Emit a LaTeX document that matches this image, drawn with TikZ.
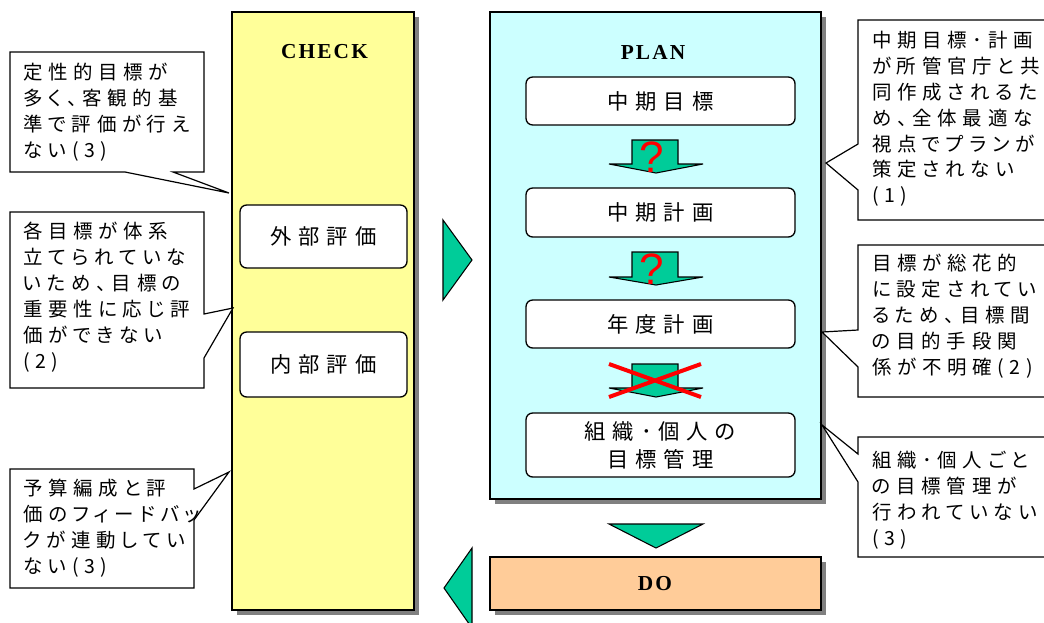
\documentclass[tikz,border=0pt]{standalone}
\usepackage{fontspec}
\usetikzlibrary{shadows}
\newfontfamily\jpfont[LetterSpace=29,RawFeature={+palt}]{Noto Sans CJK JP}
\newfontfamily\boxfont[LetterSpace=32]{Noto Sans CJK JP}
\newfontfamily\titlefont[LetterSpace=10]{Liberation Serif}
\newfontfamily\qfont{Liberation Sans}
\definecolor{checkyellow}{HTML}{FFFF99}
\definecolor{plancyan}{HTML}{CCFFFF}
\definecolor{doorange}{HTML}{FFCC99}
\definecolor{flowgreen}{HTML}{00CC99}
\begin{document}
\begin{tikzpicture}[x=0.75pt,y=-0.75pt,
  column/.style={draw, line width=1pt, inner sep=0pt,
    drop shadow={shadow xshift=3.5pt, shadow yshift=-3.5pt, fill=black!50, opacity=1}},
  stepbox/.style={draw, fill=white, line width=1pt, rounded corners=5pt, inner sep=0pt,
    font=\boxfont\fontsize{16}{21}\selectfont, align=center},
  title/.style={font=\titlefont\bfseries\fontsize{16}{18}\selectfont, inner sep=0pt},
  callout/.style={draw, fill=white, line width=0.9pt, line join=miter},
  calltext/.style={font=\jpfont\fontsize{14.6}{19.4}\selectfont, align=left,
    anchor=north west, inner sep=0pt},
  flow/.style={draw, fill=flowgreen, line width=0.8pt, line join=miter},
  qmark/.style={text=red, font=\qfont\fontsize{33}{33}\selectfont, inner sep=0pt}]
\clip (0,0) rectangle (1044,622);

% columns of the cycle
\node[column, fill=checkyellow, minimum width=136.5pt, minimum height=448.5pt] (check) at (323,311) {};
\node[column, fill=plancyan, minimum width=248.25pt, minimum height=365.25pt] (plan) at (655.5,255.5) {};
\node[column, fill=doorange, minimum width=248.25pt, minimum height=39.75pt] (do) at (655.5,583.5) {};

\node[title] (checktitle) at (324.5,52) {CHECK};
\node[title] (plantitle) at (653,52) {PLAN};
\node[title] (dotitle) at (655,584) {DO};

% evaluation boxes
\node[stepbox, minimum width=125.25pt, minimum height=47.25pt] (ext) at (323.5,236.5) {外部評価};
\node[stepbox, minimum width=125.25pt, minimum height=48.75pt] (int) at (323.5,364.5) {内部評価};

% planning steps
\node[stepbox, minimum width=201.75pt, minimum height=36pt] (goal) at (660.5,101) {中期目標};
\node[stepbox, minimum width=201.75pt, minimum height=36.75pt] (mid) at (660.5,212.5) {中期計画};
\node[stepbox, minimum width=201.75pt, minimum height=36pt] (year) at (660.5,324) {年度計画};
\node[stepbox, minimum width=201.75pt, minimum height=48pt] (org) at (660.5,445) {組織･個人の\\目標管理};

% block arrows between the steps
\draw[flow] (632,140) -- (678,140) -- (678,164) -- (703,164) -- (656,173) -- (609,164) -- (632,164) -- cycle;
\draw[flow] (632,252) -- (678,252) -- (678,277) -- (703,277) -- (656,285) -- (609,277) -- (632,277) -- cycle;
\draw[flow] (632,364) -- (678,364) -- (678,388) -- (703,388) -- (656,397) -- (609,388) -- (632,388) -- cycle;
\node[qmark] (q1) at (652,157) {?};
\node[qmark] (q2) at (652,269) {?};
\draw[red, line width=3pt] (609,364) -- (701,397) (609,397) -- (701,364);

% arrows of the cycle
\draw[flow] (609,524) -- (703,524) -- (656,548) -- cycle;
\draw[flow] (443,220) -- (472,260) -- (443,300) -- cycle;
\draw[flow] (472,548) -- (444,588) -- (472,628) -- cycle;

% callouts on the left
\draw[callout] (10,52) -- (204,52) -- (204,172) -- (173,172) -- (229,193) -- (125,172) -- (10,172) -- cycle;
\node[calltext] (c1) at (23,63) {定性的目標が\\多く、客観的基\\準で評価が行え\\ない(3)};
\draw[callout] (10,212) -- (204,212) -- (204,314) -- (233,308) -- (204,358) -- (204,388) -- (10,388) -- cycle;
\node[calltext] (c2) at (23,222) {各目標が体系\\立てられていな\\いため、目標の\\重要性に応じ評\\価ができない\\(2)};
\draw[callout] (10,469) -- (194,469) -- (194,489) -- (229,472) -- (194,520) -- (194,588) -- (10,588) -- cycle;
\node[calltext] (c3) at (23,479) {予算編成と評\\価のフィードバッ\\クが連動してい\\ない(3)};

% callouts on the right
\draw[callout] (1050,20) -- (858,20) -- (858,144) -- (826,163) -- (858,190) -- (858,220) -- (1050,220) -- cycle;
\node[calltext] (r1) at (872,31) {中期目標･計画\\が所管官庁と共\\同作成されるた\\め、全体最適な\\視点でプランが\\策定されない\\(1)};
\draw[callout] (1050,245) -- (858,245) -- (858,330) -- (822,332) -- (858,367) -- (858,397) -- (1050,397) -- cycle;
\node[calltext] (r2) at (872,254) {目標が総花的\\に設定されてい\\るため、目標間\\の目的手段関\\係が不明確(2)};
\draw[callout] (1050,437) -- (858,437) -- (858,454) -- (822,425) -- (858,482) -- (858,557) -- (1050,557) -- cycle;
\node[calltext] (r3) at (872,451) {組織･個人ごと\\の目標管理が\\行われていない\\(3)};
\end{tikzpicture}
\end{document}
